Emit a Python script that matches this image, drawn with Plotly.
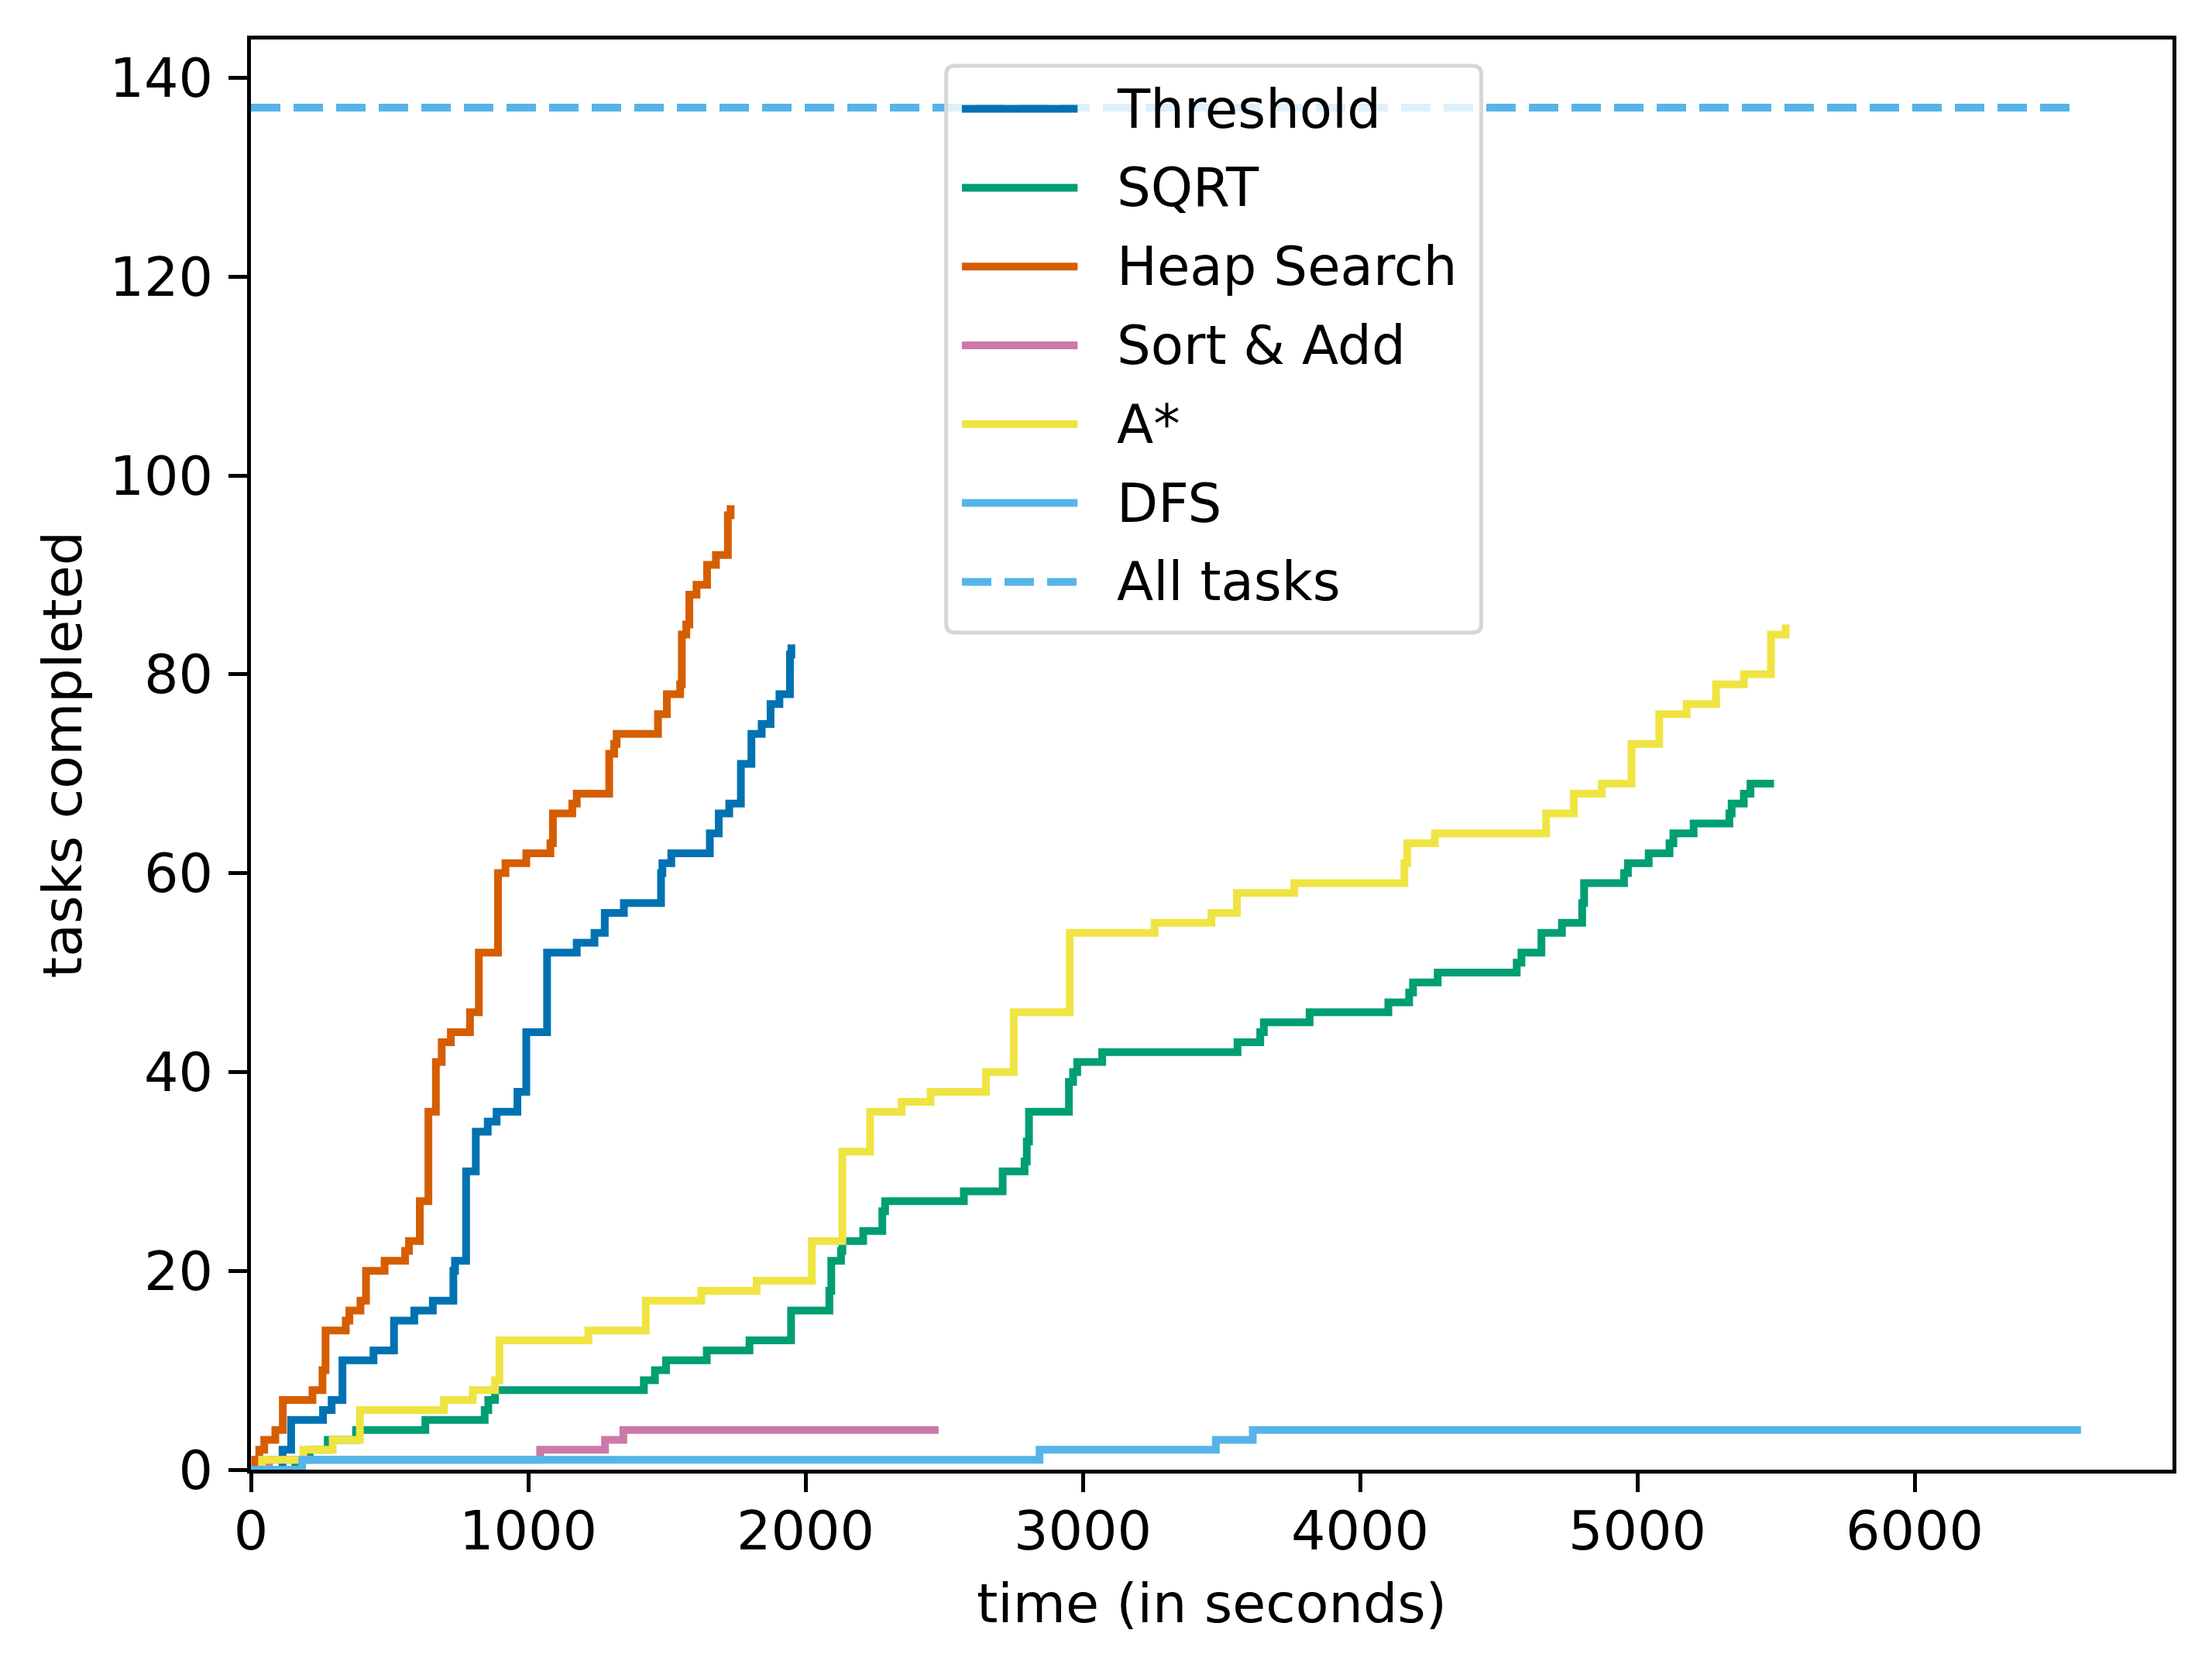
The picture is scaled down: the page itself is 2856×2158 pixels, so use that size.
import plotly.graph_objects as go

# cumulative tasks completed: time (s) at which each count is reached
threshold_t = [0, 114, 145, 260, 291, 330, 442, 516, 589, 656, 730, 736, 776, 811, 854, 886,
               961, 993, 1068, 1175, 1239, 1276, 1345, 1479, 1484, 1516, 1655, 1687, 1725,
               1767, 1805, 1842, 1874, 1906, 1944, 1949]
threshold_n = [0, 2, 5, 6, 7, 11, 12, 15, 16, 17, 20, 21, 30, 34, 35, 36,
               38, 44, 52, 53, 54, 56, 57, 60, 61, 62, 64, 66, 67,
               71, 74, 75, 77, 78, 82, 83]

sqrt_t = [0, 160, 212, 277, 379, 629, 843, 856, 880, 1417, 1457, 1497, 1644, 1798, 1948,
          2086, 2093, 2128, 2133, 2208, 2277, 2287, 2571, 2711, 2790, 2798, 2806, 2950,
          2965, 2980, 3070, 3558, 3640, 3653, 3818, 4102, 4177, 4191, 4280, 4565, 4582,
          4654, 4728, 4801, 4808, 4952, 4966, 5041, 5116, 5130, 5203, 5332, 5340, 5384,
          5408, 5493]
sqrt_n = [0, 1, 2, 3, 4, 5, 6, 7, 8, 9, 10, 11, 12, 13, 16,
          18, 21, 22, 23, 24, 26, 27, 28, 30, 31, 33, 36, 39,
          40, 41, 42, 43, 44, 45, 46, 47, 48, 49, 50, 51, 52,
          54, 55, 57, 59, 60, 61, 62, 63, 64, 65, 66, 67, 68,
          69, 69]

heap_t = [0, 15, 30, 48, 88, 115, 222, 258, 269, 342, 355, 395, 415, 482, 556, 570, 609,
          640, 667, 688, 721, 790, 822, 891, 918, 993, 1080, 1089, 1159, 1175, 1292, 1310,
          1319, 1468, 1500, 1548, 1554, 1570, 1581, 1607, 1645, 1677, 1720, 1730]
heap_n = [0, 1, 2, 3, 4, 7, 8, 10, 14, 15, 16, 17, 20, 21, 22, 23, 27,
          36, 41, 43, 44, 46, 52, 60, 61, 62, 63, 66, 67, 68, 72, 73,
          74, 76, 78, 79, 84, 85, 88, 89, 91, 92, 96, 97]

sort_add_t = [0, 65, 1043, 1277, 1343, 2480]
sort_add_n = [0, 1, 2, 3, 4, 4]

astar_t = [0, 40, 189, 295, 393, 696, 800, 880, 896, 1217, 1424, 1624, 1824, 2023, 2133,
           2233, 2347, 2451, 2651, 2751, 2953, 3259, 3464, 3556, 3763, 4160, 4170, 4270,
           4671, 4771, 4872, 4979, 5079, 5178, 5284, 5384, 5482, 5535]
astar_n = [0, 1, 2, 3, 6, 7, 8, 9, 13, 14, 17, 18, 19, 23, 32,
           36, 37, 38, 40, 46, 54, 55, 56, 58, 59, 61, 63, 64,
           66, 68, 69, 73, 76, 77, 79, 80, 84, 85]

dfs_t = [0, 185, 2844, 3480, 3613, 6600]
dfs_n = [0, 1, 2, 3, 4, 4]

all_tasks = 137
t_end = 6600

series = [
    ('Threshold', threshold_t, threshold_n, '#0072B2'),
    ('SQRT', sqrt_t, sqrt_n, '#009E73'),
    ('Heap Search', heap_t, heap_n, '#D55E00'),
    ('Sort & Add', sort_add_t, sort_add_n, '#CC79A7'),
    ('A*', astar_t, astar_n, '#F0E442'),
    ('DFS', dfs_t, dfs_n, '#56B4E9'),
]
dash_all = '38px,17px'
lw = 10
fs = 70

fig = go.Figure()
for name, t, n, color in series:
    fig.add_trace(go.Scatter(x=t, y=n, mode='lines', name=name, showlegend=False,
                             line=dict(color=color, width=lw, shape='hv')))
fig.add_trace(go.Scatter(x=[0, t_end], y=[all_tasks, all_tasks], mode='lines',
                         name='All tasks', showlegend=False,
                         line=dict(color='#56B4E9', width=lw, dash=dash_all)))

# legend drawn by hand (matplotlib look: long samples, rounded translucent box)
bx0, bx1, by0, by1 = 0.3618, 0.6403, 0.5853, 0.9816
rx, ry = 0.0045, 0.006
box = (f'M {bx0 + rx},{by0} L {bx1 - rx},{by0} Q {bx1},{by0} {bx1},{by0 + ry} '
       f'L {bx1},{by1 - ry} Q {bx1},{by1} {bx1 - rx},{by1} L {bx0 + rx},{by1} '
       f'Q {bx0},{by1} {bx0},{by1 - ry} L {bx0},{by0 + ry} Q {bx0},{by0} {bx0 + rx},{by0} Z')
fig.add_shape(type='path', path=box, xref='paper', yref='paper', layer='above',
              fillcolor='rgba(255,255,255,0.8)', line=dict(color='rgb(214,214,214)', width=5))

entries = [(s[0], s[3], 'solid') for s in series] + [('All tasks', '#56B4E9', dash_all)]
row0, row_step = 0.9515, 0.05512
for i, (name, color, dash) in enumerate(entries):
    yy = row0 - i * row_step
    fig.add_shape(type='line', xref='paper', yref='paper', layer='above',
                  x0=0.3700, x1=0.4302, y0=yy, y1=yy,
                  line=dict(color=color, width=lw, dash=dash))
    fig.add_annotation(x=0.4500, y=yy, xref='paper', yref='paper', text=name,
                       showarrow=False, xanchor='left', yanchor='middle',
                       font=dict(size=fs - 1, color='black'))

axis_style = dict(showline=True, linewidth=5, linecolor='black', mirror=True,
                  ticks='outside', ticklen=24, tickwidth=4.5, tickcolor='black',
                  showgrid=False, zeroline=False, tickfont=dict(size=fs))

fig.update_layout(
    width=2856, height=2158,
    margin=dict(l=324, r=51, t=51, b=260),
    plot_bgcolor='white', paper_bgcolor='white',
    font=dict(family='DejaVu Sans', size=fs, color='black'),
)
fig.update_xaxes(range=[0, 6930], tick0=0, dtick=1000, ticklabelstandoff=-10,
                 title=dict(text='time (in seconds)', standoff=30, font=dict(size=fs)),
                 **axis_style)
fig.update_yaxes(range=[0, 143.85], tick0=0, dtick=20, ticklabelstandoff=6,
                 title=dict(text='tasks completed', standoff=14, font=dict(size=fs)),
                 **axis_style)

fig.write_html('out.html', config={'displayModeBar': False},
               post_script="document.body.style.margin='0';")
